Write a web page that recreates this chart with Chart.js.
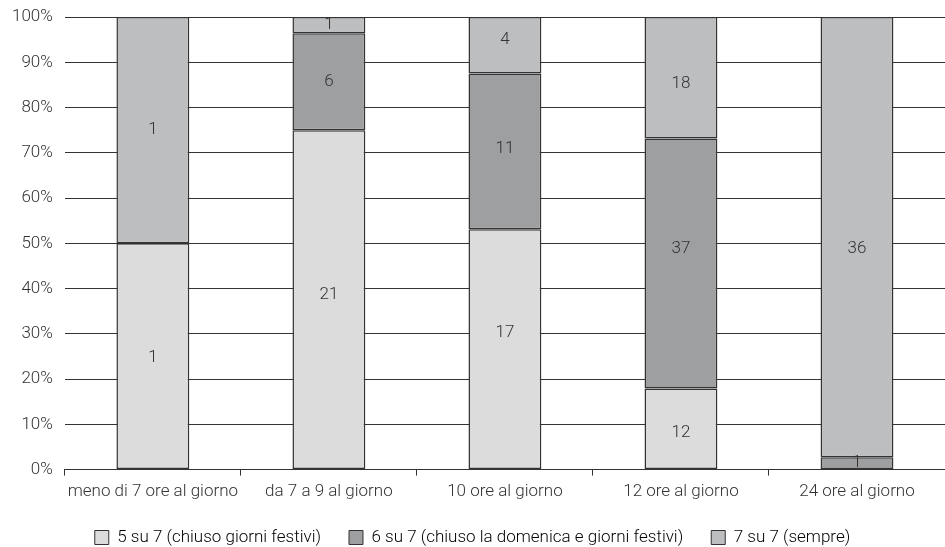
<!DOCTYPE html>
<html>
<head>
<meta charset="utf-8">
<script src="https://cdn.jsdelivr.net/npm/chart.js@4.4.1/dist/chart.umd.min.js"></script>
<style>
  html, body { margin: 0; padding: 0; background: #fff; }
  #wrap { width: 945px; height: 547px; position: relative; }
</style>
</head>
<body>
<div id="wrap"><canvas id="orari"></canvas></div>
<script>
const categories = [
  "meno di 7 ore al giorno",
  "da 7 a 9 al giorno",
  "10 ore al giorno",
  "12 ore al giorno",
  "24 ore al giorno",
];
const seriesNames = [
  "5 su 7 (chiuso giorni festivi)",
  "6 su 7 (chiuso la domenica e giorni festivi)",
  "7 su 7 (sempre)",
];
// counts per opening pattern
const cinqueSuSette = [1, 21, 17, 12, 0];
const seiSuSette = [0, 6, 11, 37, 1];
const setteSuSette = [1, 1, 4, 18, 36];
const yTicks = [0, 10, 20, 30, 40, 50, 60, 70, 80, 90, 100];

// where each count label sits, in % of the bar
const labelPosCinque = [24.8, 38.7, 30.3, 8.2, null];
const labelPosSei = [null, 85.8, 71.0, 48.7, 1.5];
const labelPosSette = [75.0, 98.2, 94.9, 85.2, 48.7];

const counts = [cinqueSuSette, seiSuSette, setteSuSette];
const labelPos = [labelPosCinque, labelPosSei, labelPosSette];
const totals = categories.map((_, i) => counts.reduce((s, c) => s + c[i], 0));
const pct = (arr) => arr.map((v, i) => (v / totals[i]) * 100);

const FONT = { family: "Roboto, 'Liberation Sans', Arial, sans-serif", size: 17, weight: 300 };
const INK = "#333333";
const FILLS = ["#dcdcdd", "#9e9fa1", "#bdbec0"];

// writes the raw count on each segment
const segmentLabels = {
  id: "segmentLabels",
  afterDatasetsDraw(chart) {
    const ctx = chart.ctx;
    const y = chart.scales.y;
    ctx.save();
    ctx.font = `${FONT.weight} ${FONT.size}px ${FONT.family}`;
    ctx.fillStyle = INK;
    ctx.textAlign = "center";
    ctx.textBaseline = "middle";
    chart.data.datasets.forEach((ds, di) => {
      chart.getDatasetMeta(di).data.forEach((bar, i) => {
        const n = counts[di][i];
        if (!n) return;
        const at = labelPos[di][i];
        const py = at == null ? (bar.y + bar.base) / 2 : y.getPixelForValue(at);
        ctx.fillText(String(n), bar.x, py);
      });
    });
    ctx.restore();
  },
};

Chart.defaults.font = FONT;
Chart.defaults.color = INK;

new Chart(document.getElementById("orari"), {
  type: "bar",
  data: {
    labels: categories,
    datasets: seriesNames.map((name, k) => ({
      label: name,
      data: pct(counts[k]),
      backgroundColor: FILLS[k],
      borderColor: INK,
      borderWidth: 1.5,
      borderSkipped: false,
      categoryPercentage: 1,
      barPercentage: 0.414,
    })),
  },
  options: {
    responsive: true,
    maintainAspectRatio: false,
    animation: false,
    layout: { padding: { top: 0, right: 0, left: 0, bottom: -9 } },
    plugins: {
      legend: {
        position: "bottom",
        labels: {
          boxWidth: 14,
          boxHeight: 14,
          padding: 28,
          color: INK,
          font: FONT,
          generateLabels(chart) {
            return chart.data.datasets.map((ds, i) => ({
              text: ds.label,
              fillStyle: ds.backgroundColor,
              strokeStyle: INK,
              lineWidth: 1,
              datasetIndex: i,
            }));
          },
        },
      },
      tooltip: { enabled: false },
    },
    scales: {
      x: {
        stacked: true,
        afterFit(scale) {
          scale.height -= 7;
        },
        grid: { offset: true, drawOnChartArea: false, drawTicks: true, tickLength: 6, color: INK },
        border: { display: true, color: INK },
        ticks: { color: INK, font: FONT, maxRotation: 0, padding: 6 },
      },
      y: {
        stacked: true,
        min: 0,
        max: 100,
        afterBuildTicks(axis) {
          axis.ticks = yTicks.map((v) => ({ value: v }));
        },
        afterFit(scale) {
          scale.paddingTop = 17;
        },
        grid: { color: INK, drawTicks: false },
        border: { display: false },
        ticks: { color: INK, font: FONT, padding: 12, callback: (v) => v + "%" },
      },
    },
  },
  plugins: [segmentLabels],
});
</script>
</body>
</html>
